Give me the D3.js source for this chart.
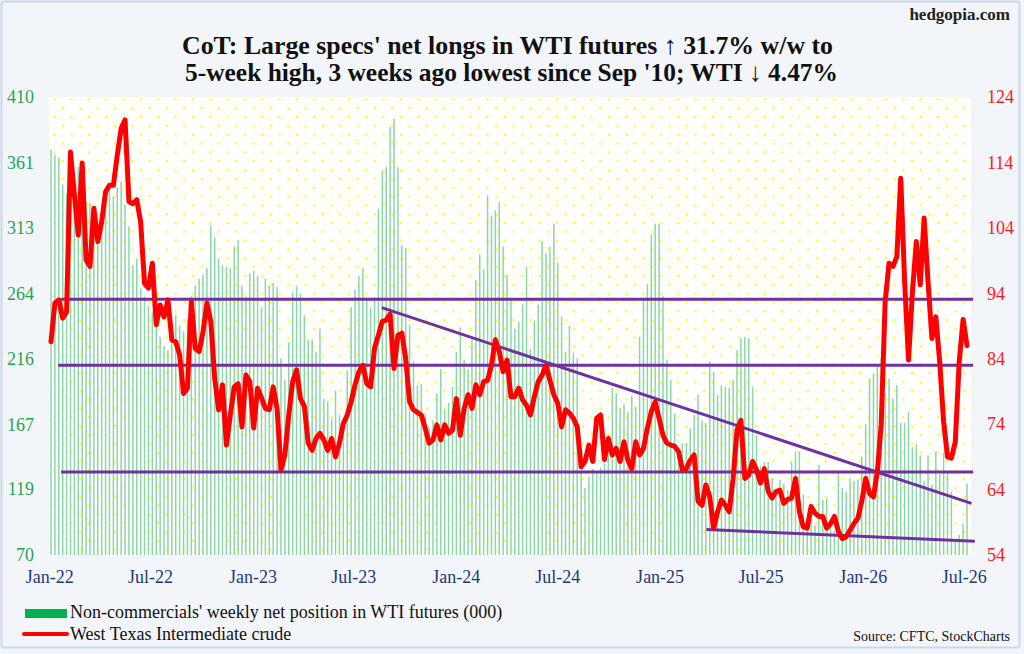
<!DOCTYPE html>
<html><head><meta charset="utf-8">
<script src="https://cdn.jsdelivr.net/npm/d3@7"></script>
<style>
html,body{margin:0;padding:0;background:#fff;}
svg{display:block;font-family:"Liberation Serif","Times New Roman",serif;}
svg text{font-family:"Liberation Serif","Times New Roman",serif;}
</style></head>
<body>
<svg id="chart" width="1024" height="654"></svg>
<script>
// ---------------- DATA ----------------
const firstWeek = "2022-01-04"; // weekly CoT dates (Tuesdays)
// Non-commercials' net position in WTI futures (000), left axis
const netLongs = [
371,367,365,345,338,330,325,358,336,332,331,318,316,318,340,342,336,343,347,330,
314,285,290,268,262,255,250,240,232,225,222,235,248,240,236,245,262,270,275,278,
283,315,306,290,285,284,283,299,304,270,262,279,281,277,254,275,270,272,269,216,
200,228,265,270,264,248,230,230,221,238,186,184,171,192,174,164,207,254,267,277,
283,261,254,261,327,355,358,388,394,358,300,298,241,214,196,197,175,165,170,190,
208,178,183,195,221,239,215,208,230,274,293,282,337,322,326,332,299,278,259,238,
243,256,284,223,244,256,303,294,299,316,287,247,221,240,220,216,133,120,128,134,
132,135,138,150,194,190,179,182,176,188,180,232,261,271,308,316,316,262,215,200,
175,150,153,153,164,174,189,170,168,214,206,189,196,195,194,200,222,231,232,231,
195,159,136,139,139,127,115,126,123,118,139,147,147,115,95,100,92,137,111,112,
95,88,131,120,117,127,125,126,143,167,201,205,210,216,190,201,186,196,168,168,
176,150,152,144,125,144,122,147,130,146,131,117,80,85,93.5,123
];
// West Texas Intermediate crude ($), right axis
const wti = [
86.6,92.5,93,90.2,91.2,115.6,109,102.9,113.9,99.1,98.1,107,101.9,104.9,109.5,110.5,110.5,115.1,119.2,120.5,
108,107.7,108.3,104.9,95.5,94.8,98.6,89.2,92.2,90.4,93,86.9,86.6,84.6,78.7,79.5,92.7,85.6,85.1,88.1,
92.5,89.7,81,76.2,80,70.8,75.4,79.7,80.2,73.6,81.5,80.5,73.4,79.5,78,76.4,76.2,79.7,76.4,67,
69.3,75.4,80.5,82.3,77.9,76.7,71.1,70,71.8,72.6,71.6,70,71.8,69,71.1,74.1,75.4,77.4,80,82,
83,80.2,79.7,85.6,87.6,89.7,89.9,90.8,82.5,87.6,87.9,84,77.4,76.2,75.8,75.4,73.4,71.1,71.6,73.9,
71.6,73.9,72.6,73.1,77.9,72.3,76.4,78.5,76.4,80,78.5,80.5,80.7,83,86.9,85.1,82,83.8,78.2,78.2,
79.5,77.7,76.9,75.4,78.2,80.5,81.5,83,80.7,78.5,77.2,73.6,76.2,75.7,74.9,73.6,67.5,68.3,70.8,68.3,
74.9,75.4,68.6,71.8,69.3,70.3,68.3,71.3,68.5,67.2,71.3,69.3,70.3,73.4,75.9,77.4,74.9,72.3,71.1,70.8,
70.6,69.8,67,67.2,68.5,69.3,62.2,61.6,64.7,62.9,58.1,60.6,62.4,61.6,60.6,65.7,73.1,74.6,65.7,66.2,
68.3,67,65,67.2,63.7,62.7,63.7,63.9,61.9,62.5,62.7,65.7,60.6,58.3,58.1,61.4,60.4,59.9,59.9,58.1,
58.8,59.9,57.6,56.5,56.8,57.8,58.8,59.6,62.2,65.7,63.4,62.9,66.7,74,92.7,98.6,98.1,99.6,111.6,95.8,
83.8,94.2,101.9,95.3,105.5,95.8,87.1,90.4,83.5,74.4,69,68.8,71.3,83.5,90,86
];
const xTickDates  = ["2022-01-01","2022-07-01","2023-01-01","2023-07-01","2024-01-01","2024-07-01","2025-01-01","2025-07-01","2026-01-01","2026-07-01"];
const xTickLabels = ["Jan-22","Jul-22","Jan-23","Jul-23","Jan-24","Jul-24","Jan-25","Jul-25","Jan-26","Jul-26"];
const leftTicks  = [70,119,167,216,264,313,361,410];
const rightTicks = [54,64,74,84,94,104,114,124];
// drawn support/resistance lines (right-axis values)
const hLines = [
  {from:"2022-01-22", to:"2026-07-18", v:93.1},
  {from:"2022-01-17", to:"2026-07-18", v:83.0},
  {from:"2022-01-22", to:"2026-07-18", v:66.7}
];
const trendLines = [
  {from:"2023-08-21", v1:91.8, to:"2026-07-15", v2:61.9},
  {from:"2025-03-26", v1:57.9, to:"2026-07-21", v2:56.1}
];
const titleLines = ["CoT: Large specs' net longs in WTI futures \u2191 31.7% w/w to",
                    "5-week high, 3 weeks ago lowest since Sep '10; WTI \u2193 4.47%"];
const legendItems = ["Non-commercials' weekly net position in WTI futures (000)", "West Texas Intermediate crude"];

// ---------------- CHART ----------------
const FONT = "'Liberation Serif','Times New Roman',serif";
const parse = d3.timeParse("%Y-%m-%d");
const start = parse(firstWeek);
const weeks = netLongs.map((_, i) => d3.timeDay.offset(start, 7 * i));

const svg = d3.select("#chart");
const PL = 49, PR = 971, PT = 97, PB = 555;

const x = d3.scaleTime().domain([weeks[0], weeks[weeks.length - 1]]).range([51, 967]);
const yL = d3.scaleLinear().domain([70, 410]).range([PB, PT]);
const yR = d3.scaleLinear().domain([54, 124]).range([PB, PT]);

const defs = svg.append("defs");
const bgp = defs.append("pattern").attr("id", "bgtex").attr("patternUnits", "userSpaceOnUse")
  .attr("width", 4).attr("height", 4);
bgp.append("rect").attr("width", 4).attr("height", 4).attr("fill", "#f4f6f9");
bgp.append("rect").attr("x", 0).attr("y", 0).attr("width", 1).attr("height", 1).attr("fill", "#eceff3");
bgp.append("rect").attr("x", 2).attr("y", 2).attr("width", 1).attr("height", 1).attr("fill", "#eceff3");

const dp = defs.append("pattern").attr("id", "dots").attr("patternUnits", "userSpaceOnUse")
  .attr("x", 53.3).attr("y", 98.3).attr("width", 17.33).attr("height", 17.66);
dp.append("rect").attr("width", 17.33).attr("height", 17.66).attr("fill", "#ffffff");
dp.append("rect").attr("x", 0).attr("y", 0).attr("width", 2).attr("height", 2).attr("fill", "#ffff00");
dp.append("rect").attr("x", 8.66).attr("y", 8.83).attr("width", 2).attr("height", 2).attr("fill", "#ffff00");

// page background & border
svg.append("rect").attr("x", 0).attr("y", 0).attr("width", 1024).attr("height", 654).attr("fill", "url(#bgtex)");
svg.append("rect").attr("x", 1.5).attr("y", 1.5).attr("width", 1018).attr("height", 646)
  .attr("fill", "none").attr("stroke", "#cad8ec").attr("stroke-width", 2).attr("rx", 2);

// plot area
svg.append("rect").attr("x", PL).attr("y", PT).attr("width", PR - PL).attr("height", PB - PT).attr("fill", "url(#dots)");

// bars
svg.append("g").selectAll("rect").data(netLongs).join("rect")
  .attr("x", (d, i) => x(weeks[i]) - 0.75)
  .attr("width", 1.5)
  .attr("y", d => yL(d))
  .attr("height", d => PB - yL(d))
  .attr("fill", "#8cd6aa");

// support/resistance lines
svg.append("g").selectAll("line").data(hLines).join("line")
  .attr("x1", d => x(parse(d.from))).attr("x2", d => x(parse(d.to)))
  .attr("y1", d => yR(d.v)).attr("y2", d => yR(d.v))
  .attr("stroke", "#7030a0").attr("stroke-width", 3);
svg.append("g").selectAll("line").data(trendLines).join("line")
  .attr("x1", d => x(parse(d.from))).attr("x2", d => x(parse(d.to)))
  .attr("y1", d => yR(d.v1)).attr("y2", d => yR(d.v2))
  .attr("stroke", "#7030a0").attr("stroke-width", 3);

// WTI line
svg.append("path").datum(wti)
  .attr("d", d3.line().x((d, i) => x(weeks[i])).y(d => yR(d)))
  .attr("fill", "none").attr("stroke", "#ff0000").attr("stroke-width", 5)
  .attr("stroke-linejoin", "round").attr("stroke-linecap", "round");

// axes
const lAxis = svg.append("g").attr("transform", "translate(34,0)")
  .call(d3.axisLeft(yL).tickValues(leftTicks).tickSize(0).tickPadding(0).tickFormat(d3.format("d")));
lAxis.select(".domain").remove();
lAxis.attr("font-family", null).attr("font-size", null);
lAxis.selectAll("text").attr("fill", "#1fa651").style("font-size", "18px").style("font-family", FONT);

const rAxis = svg.append("g").attr("transform", "translate(987,0)")
  .call(d3.axisRight(yR).tickValues(rightTicks).tickSize(0).tickPadding(0).tickFormat(d3.format("d")));
rAxis.select(".domain").remove();
rAxis.attr("font-family", null).attr("font-size", null);
rAxis.selectAll("text").attr("fill", "#ff1a1a").style("font-size", "18px").style("font-family", FONT);

const xAxis = svg.append("g").attr("transform", "translate(0,570)")
  .call(d3.axisBottom(x).tickValues(xTickDates.map(parse)).tickSize(0).tickPadding(0)
    .tickFormat((d, i) => xTickLabels[i]));
xAxis.select(".domain").remove();
xAxis.attr("font-family", null).attr("font-size", null);
xAxis.selectAll("text").attr("fill", "#1f3a7a").style("font-size", "18px").style("font-family", FONT);

// title
svg.append("g").selectAll("text").data(titleLines).join("text")
  .attr("x", (d, i) => i === 0 ? 182 : 185)
  .attr("y", (d, i) => 54 + i * 27)
  .attr("textLength", (d, i) => i === 0 ? 651 : 653)
  .attr("lengthAdjust", "spacingAndGlyphs")
  .style("font-size", "26px").style("font-weight", "bold").style("font-family", FONT).attr("fill", "#111")
  .text(d => d);

svg.append("text").attr("x", 1010).attr("y", 20).attr("text-anchor", "end")
  .style("font-size", "17px").style("font-weight", "bold").style("font-family", FONT).attr("fill", "#222").text("hedgopia.com");

// legend
svg.append("rect").attr("x", 25).attr("y", 609).attr("width", 42).attr("height", 9).attr("fill", "#00b050");
svg.append("line").attr("x1", 24).attr("x2", 67).attr("y1", 634).attr("y2", 634)
  .attr("stroke", "#ff0000").attr("stroke-width", 4).attr("stroke-linecap", "round");
svg.append("g").selectAll("text").data(legendItems).join("text")
  .attr("x", 70).attr("y", (d, i) => 618 + i * 22)
  .style("font-size", "18px").style("font-family", FONT).attr("fill", "#111").text(d => d);

svg.append("text").attr("x", 1010).attr("y", 641).attr("text-anchor", "end")
  .style("font-size", "14px").style("font-family", FONT).attr("fill", "#111").text("Source: CFTC, StockCharts");
</script>
</body></html>
